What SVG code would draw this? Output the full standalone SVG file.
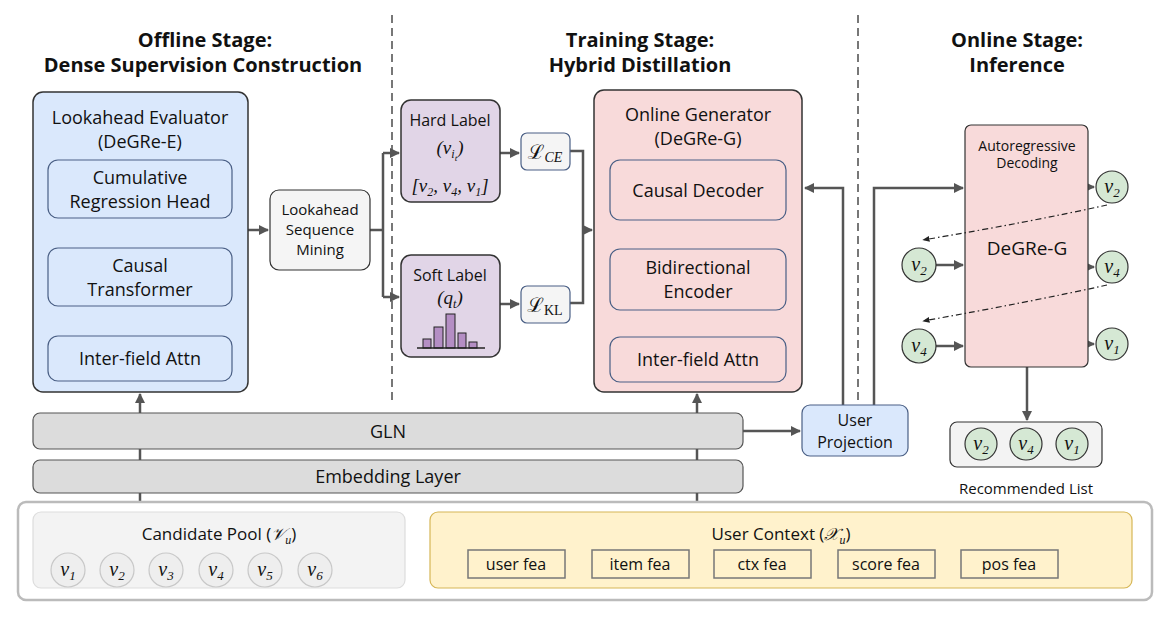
<svg xmlns="http://www.w3.org/2000/svg" width="1176" height="618" viewBox="0 0 1176 618">
<defs>
<marker id="ah" viewBox="0 0 10 10" refX="9" refY="5" markerWidth="4" markerHeight="4" orient="auto"><path d="M0,0 L10,5 L0,10 z" fill="#555"/></marker>
<marker id="sa" viewBox="0 0 10 10" refX="9" refY="5" markerWidth="6" markerHeight="6" orient="auto"><path d="M0,1 L10,5 L0,9 z" fill="#222"/></marker>
<style>
text{font-family:"Open Sans","Noto Sans","DejaVu Sans",sans-serif;fill:#111;text-anchor:middle}
.t{font-size:20px;font-weight:bold}
.m{font-family:"Liberation Serif","DejaVu Serif",serif;font-style:italic}
.c{stroke:#555;stroke-width:2.5;fill:none}
.cn{stroke:#555;stroke-width:2.5;fill:none;marker-end:url(#ah)}
.dd{fill:none;stroke:#222;stroke-width:1.2;stroke-dasharray:6,3,1.5,3;marker-end:url(#sa)}
.in{stroke:#4a5f85;stroke-width:1.2;rx:10}
.gc{fill:#d5e8d4;stroke:#333;stroke-width:1.2}
.pc{fill:#eeeeee;stroke:#c8c8c8;stroke-width:1.2}
.fb{fill:#fff2cc;stroke:#777;stroke-width:1.5}
</style>
</defs>
<rect width="1176" height="618" fill="#fff"/>
<text class="t" x="205" y="47">Offline Stage:</text>
<text class="t" x="203" y="72">Dense Supervision Construction</text>
<text class="t" x="640" y="47">Training Stage:</text>
<text class="t" x="640" y="72">Hybrid Distillation</text>
<text class="t" x="1017" y="47">Online Stage:</text>
<text class="t" x="1017" y="72">Inference</text>
<line x1="392" y1="15" x2="392" y2="405" stroke="#777" stroke-width="2" stroke-dasharray="8,5"/>
<line x1="858" y1="15" x2="858" y2="405" stroke="#777" stroke-width="2" stroke-dasharray="8,5"/>

<g id="connectors">
<path class="cn" d="M140,501 V394"/>
<path class="cn" d="M697,501 V394"/>
<path class="cn" d="M140,336 V308"/>
<path class="cn" d="M140,248 V220"/>
<path class="cn" d="M697,337 V312"/>
<path class="cn" d="M697,249 V222"/>
<path class="cn" d="M248,230 H268"/>
<path class="c" d="M370,230 H383 M383,153 V297"/>
<path class="cn" d="M383,153 H399"/>
<path class="cn" d="M383,297 H399"/>
<path class="cn" d="M500,153 H519"/>
<path class="cn" d="M500,304 H519"/>
<path class="c" d="M570,151 H583 V303 H570"/>
<path class="cn" d="M583,230 H592"/>
<path class="cn" d="M743,431 H800"/>
<path class="cn" d="M843,405 V188 H805"/>
<path class="cn" d="M874,405 V188 H963"/>
<path class="cn" d="M1088,187 H1094"/>
<path class="cn" d="M1088,267 H1094"/>
<path class="cn" d="M1088,344 H1094"/>
<path class="cn" d="M936,265 H963"/>
<path class="cn" d="M936,346 H963"/>
<path class="cn" d="M1027,367 V420"/>
</g>

<g id="evaluator">
<rect x="33" y="92" width="215" height="300" rx="10" fill="#dae8fc" stroke="#333" stroke-width="1.5"/>
<text x="140" y="124" font-size="18">Lookahead Evaluator</text>
<text x="140" y="148" font-size="18">(DeGRe-E)</text>
<rect class="in" x="48" y="160" width="184" height="58" fill="#dae8fc"/>
<text x="140" y="184" font-size="18">Cumulative</text>
<text x="140" y="208" font-size="18">Regression Head</text>
<rect class="in" x="48" y="248" width="184" height="58" fill="#dae8fc"/>
<text x="140" y="272" font-size="18">Causal</text>
<text x="140" y="296" font-size="18">Transformer</text>
<rect class="in" x="48" y="336" width="184" height="45" fill="#dae8fc"/>
<text x="140" y="365" font-size="18">Inter-field Attn</text>
</g>

<g id="mining">
<rect x="270" y="190" width="100" height="80" rx="9" fill="#f5f5f5" stroke="#333" stroke-width="1.2"/>
<text x="320" y="215" font-size="15">Lookahead</text>
<text x="320" y="235" font-size="15">Sequence</text>
<text x="320" y="255" font-size="15">Mining</text>
</g>

<g id="hard">
<rect x="401" y="100" width="99" height="102" rx="10" fill="#e1d5e7" stroke="#333" stroke-width="1.5"/>
<text x="450" y="126" font-size="16">Hard Label</text>
<text x="450" y="154" font-size="19" class="m">(v<tspan font-size="12" dy="4">i</tspan><tspan font-size="9" dy="3">t</tspan><tspan dy="-7">)</tspan></text>
<text x="450" y="192" font-size="19" class="m">[v<tspan font-size="12" dy="4">2</tspan><tspan dy="-4">, v</tspan><tspan font-size="12" dy="4">4</tspan><tspan dy="-4">, v</tspan><tspan font-size="12" dy="4">1</tspan><tspan dy="-4">]</tspan></text>
</g>

<g id="soft">
<rect x="401" y="255" width="99" height="102" rx="10" fill="#e1d5e7" stroke="#333" stroke-width="1.5"/>
<text x="450" y="281" font-size="16">Soft Label</text>
<text x="450" y="304" font-size="19" class="m">(q<tspan font-size="12" dy="4">t</tspan><tspan dy="-4">)</tspan></text>
<g fill="#b48ec4" stroke="#222" stroke-width="1">
<rect x="423" y="339" width="8" height="9"/><rect x="434" y="327" width="9" height="21"/><rect x="446" y="314" width="9" height="34"/><rect x="458" y="333" width="8" height="15"/><rect x="469" y="342" width="8" height="6"/>
</g>
<line x1="417" y1="348" x2="485" y2="348" stroke="#222" stroke-width="1.5"/>
</g>

<g id="lce">
<rect x="521" y="133" width="49" height="37" rx="6" fill="#f5f5f5" stroke="#4a5f85" stroke-width="1.2"/>
<text x="545" y="159" font-size="20" font-family="DejaVu Serif,serif">ℒ<tspan class="m" font-size="14" dy="3">CE</tspan></text>
</g>
<g id="lkl">
<rect x="521" y="286" width="49" height="37" rx="6" fill="#f5f5f5" stroke="#4a5f85" stroke-width="1.2"/>
<text x="545" y="312" font-size="20" font-family="DejaVu Serif,serif">ℒ<tspan font-size="14" dy="3" font-family="Liberation Serif,serif">KL</tspan></text>
</g>

<g id="generator">
<rect x="594" y="90" width="208" height="302" rx="10" fill="#f8dada" stroke="#333" stroke-width="1.5"/>
<text x="698" y="121" font-size="18">Online Generator</text>
<text x="698" y="145" font-size="18">(DeGRe-G)</text>
<rect class="in" x="610" y="160" width="176" height="60" fill="#f8dada"/>
<text x="698" y="197" font-size="18">Causal Decoder</text>
<rect class="in" x="610" y="249" width="176" height="61" fill="#f8dada"/>
<text x="698" y="274" font-size="18">Bidirectional</text>
<text x="698" y="298" font-size="18">Encoder</text>
<rect class="in" x="610" y="337" width="176" height="45" fill="#f8dada"/>
<text x="698" y="366" font-size="18">Inter-field Attn</text>
</g>

<g id="gln">
<rect x="33" y="413" width="710" height="36" rx="7" fill="#dcdcdc" stroke="#555" stroke-width="1.2"/>
<text x="388" y="438" font-size="18">GLN</text>
</g>
<g id="embedding">
<rect x="33" y="460" width="710" height="33" rx="7" fill="#dcdcdc" stroke="#555" stroke-width="1.2"/>
<text x="388" y="483" font-size="18">Embedding Layer</text>
</g>

<g id="userproj">
<rect x="802" y="405" width="106" height="51" rx="8" fill="#dae8fc" stroke="#4a5f85" stroke-width="1.2"/>
<text x="855" y="426" font-size="16">User</text>
<text x="855" y="448" font-size="16">Projection</text>
</g>

<g id="degreg">
<rect x="965" y="125" width="123" height="242" rx="6" fill="#f8dada" stroke="#333" stroke-width="1.2"/>
<text x="1027" y="151" font-size="14">Autoregressive</text>
<text x="1027" y="168" font-size="14">Decoding</text>
<text x="1027" y="255" font-size="19">DeGRe-G</text>
</g>

<g id="feedback">
<path class="dd" d="M1107,205 Q1030,222 923,240"/>
<path class="dd" d="M1107,285 Q1030,302 923,321"/>
</g>

<g id="circles">
<circle class="gc" cx="1112" cy="187" r="16"/><text class="m" x="1112" y="193" font-size="20">v<tspan font-size="13" dy="4">2</tspan></text>
<circle class="gc" cx="1112" cy="267" r="16"/><text class="m" x="1112" y="273" font-size="20">v<tspan font-size="13" dy="4">4</tspan></text>
<circle class="gc" cx="1112" cy="344" r="16"/><text class="m" x="1112" y="350" font-size="20">v<tspan font-size="13" dy="4">1</tspan></text>
<circle class="gc" cx="919" cy="265" r="17"/><text class="m" x="919" y="271" font-size="20">v<tspan font-size="13" dy="4">2</tspan></text>
<circle class="gc" cx="919" cy="346" r="17"/><text class="m" x="919" y="352" font-size="20">v<tspan font-size="13" dy="4">4</tspan></text>
</g>

<g id="reclist">
<rect x="950" y="422" width="152" height="45" rx="7" fill="#f3f3f3" stroke="#333" stroke-width="1.2"/>
<circle class="gc" cx="981" cy="444" r="16"/><text class="m" x="981" y="450" font-size="20">v<tspan font-size="13" dy="4">2</tspan></text>
<circle class="gc" cx="1026" cy="444" r="16"/><text class="m" x="1026" y="450" font-size="20">v<tspan font-size="13" dy="4">4</tspan></text>
<circle class="gc" cx="1072" cy="444" r="16"/><text class="m" x="1072" y="450" font-size="20">v<tspan font-size="13" dy="4">1</tspan></text>
<text x="1026" y="494" font-size="15">Recommended List</text>
</g>

<g id="inputs">
<rect x="18" y="502" width="1134" height="98" rx="8" fill="none" stroke="#bbb" stroke-width="2.5"/>
<rect x="33" y="512" width="372" height="76" rx="8" fill="#f3f3f3" stroke="#ddd" stroke-width="1.2"/>
<text x="219" y="540" font-size="17">Candidate Pool (<tspan font-family="DejaVu Serif,serif" font-style="italic">𝒱</tspan><tspan class="m" font-size="12" dy="4">u</tspan><tspan dy="-4">)</tspan></text>
<circle class="pc" cx="68" cy="570" r="17"/><text class="m" x="68" y="576" font-size="20">v<tspan font-size="13" dy="4">1</tspan></text>
<circle class="pc" cx="117" cy="570" r="17"/><text class="m" x="117" y="576" font-size="20">v<tspan font-size="13" dy="4">2</tspan></text>
<circle class="pc" cx="166" cy="570" r="17"/><text class="m" x="166" y="576" font-size="20">v<tspan font-size="13" dy="4">3</tspan></text>
<circle class="pc" cx="216" cy="570" r="17"/><text class="m" x="216" y="576" font-size="20">v<tspan font-size="13" dy="4">4</tspan></text>
<circle class="pc" cx="265" cy="570" r="17"/><text class="m" x="265" y="576" font-size="20">v<tspan font-size="13" dy="4">5</tspan></text>
<circle class="pc" cx="315" cy="570" r="17"/><text class="m" x="315" y="576" font-size="20">v<tspan font-size="13" dy="4">6</tspan></text>
<rect x="430" y="512" width="702" height="76" rx="8" fill="#fff2cc" stroke="#d6b656" stroke-width="1.2"/>
<text x="781" y="540" font-size="17">User Context (<tspan font-family="DejaVu Serif,serif" font-style="italic">𝒳</tspan><tspan class="m" font-size="12" dy="4">u</tspan><tspan dy="-4">)</tspan></text>
<rect class="fb" x="468" y="550" width="97" height="28"/><text x="516" y="570" font-size="16">user fea</text>
<rect class="fb" x="592" y="550" width="97" height="28"/><text x="640" y="570" font-size="16">item fea</text>
<rect class="fb" x="714" y="550" width="97" height="28"/><text x="762" y="570" font-size="16">ctx fea</text>
<rect class="fb" x="838" y="550" width="97" height="28"/><text x="886" y="570" font-size="16">score fea</text>
<rect class="fb" x="961" y="550" width="97" height="28"/><text x="1009" y="570" font-size="16">pos fea</text>
</g>
</svg>
